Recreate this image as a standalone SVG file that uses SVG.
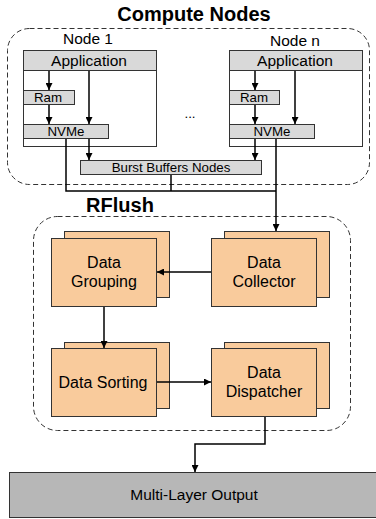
<svg xmlns="http://www.w3.org/2000/svg" width="376" height="519" viewBox="0 0 376 519">
<defs>
<marker id="ah" viewBox="0 0 10 10" refX="10" refY="5" markerWidth="7" markerHeight="7" markerUnits="userSpaceOnUse" orient="auto">
<path d="M0,0 L10,5 L0,10 z" fill="#000"/>
</marker>
<style>
text{font-family:"Liberation Sans",Arial,sans-serif;fill:#000;text-anchor:middle}
.title{font-size:20px;font-weight:bold}
.lbl{font-size:15.5px}
.bx{font-size:16px}
.sm{font-size:13.3px}
.grp{fill:none;stroke:#333;stroke-width:1;stroke-dasharray:5,3}
.box{fill:#fff;stroke:#333;stroke-width:1}
.gray{fill:#d9d9d9;stroke:#333;stroke-width:1}
.org{fill:#f9cb9c;stroke:#333;stroke-width:1}
.out{fill:#b7b7b7;stroke:#333;stroke-width:1}
.c{fill:none;stroke:#000;stroke-width:1.5}
</style>
</defs>
<text class="title" x="194" y="21">Compute Nodes</text>
<rect class="grp" x="7.5" y="28.5" width="362" height="156" rx="22"/>
<g id="node1">
<text class="lbl" x="88" y="44">Node 1</text>
<rect class="box" x="23.5" y="50.5" width="133" height="96"/>
<rect class="gray" x="23.5" y="50.5" width="133" height="20"/>
<text class="lbl" x="89" y="66">Application</text>
<rect class="gray" x="23.5" y="90.5" width="51" height="14"/>
<text class="sm" x="48" y="102">Ram</text>
<rect class="gray" x="23.5" y="124.5" width="85" height="14"/>
<text class="sm" x="66" y="136">NVMe</text>
</g>
<g id="noden">
<text class="lbl" x="295" y="46">Node n</text>
<rect class="box" x="229.5" y="50.5" width="133" height="96"/>
<rect class="gray" x="229.5" y="50.5" width="133" height="20"/>
<text class="lbl" x="295" y="66">Application</text>
<rect class="gray" x="229.5" y="90.5" width="50" height="14"/>
<text class="sm" x="254" y="102">Ram</text>
<rect class="gray" x="229.5" y="124.5" width="85" height="14"/>
<text class="sm" x="272" y="136">NVMe</text>
</g>
<text id="dots" class="sm" x="190" y="118">...</text>
<g id="burst">
<rect class="gray" x="80.5" y="160.5" width="181" height="14"/>
<text class="sm" x="171" y="172">Burst Buffers Nodes</text>
</g>
<text class="title" x="120" y="212">RFlush</text>
<rect class="grp" x="33.5" y="216.5" width="317" height="214" rx="24"/>
<g id="grouping">
<rect class="org" x="64.5" y="231.5" width="105" height="66"/>
<rect class="org" x="51.5" y="238.5" width="105" height="68"/>
<text class="bx" x="104" y="268">Data</text>
<text class="bx" x="104" y="287">Grouping</text>
</g>
<g id="collector">
<rect class="org" x="224.5" y="231.5" width="105" height="66"/>
<rect class="org" x="211.5" y="238.5" width="105" height="68"/>
<text class="bx" x="264" y="268">Data</text>
<text class="bx" x="264" y="287">Collector</text>
</g>
<g id="sorting">
<rect class="org" x="64.5" y="342.5" width="105" height="66"/>
<rect class="org" x="51.5" y="348.5" width="105" height="68"/>
<text class="bx" x="103" y="388">Data Sorting</text>
</g>
<g id="dispatcher">
<rect class="org" x="224.5" y="342.5" width="105" height="66"/>
<rect class="org" x="211.5" y="348.5" width="105" height="68"/>
<text class="bx" x="264" y="378">Data</text>
<text class="bx" x="264" y="397">Dispatcher</text>
</g>
<g id="output">
<rect class="out" x="9.5" y="472.5" width="370" height="45"/>
<text class="lbl" x="194" y="500">Multi-Layer Output</text>
</g>
<g id="connectors">
<path class="c" d="M49,71 V90" marker-end="url(#ah)"/>
<path class="c" d="M49,105 V124" marker-end="url(#ah)"/>
<path class="c" d="M89,71 V124" marker-end="url(#ah)"/>
<path class="c" d="M89,139 V160" marker-end="url(#ah)"/>
<path class="c" d="M255,71 V90" marker-end="url(#ah)"/>
<path class="c" d="M255,105 V124" marker-end="url(#ah)"/>
<path class="c" d="M295,71 V124" marker-end="url(#ah)"/>
<path class="c" d="M255,139 V160" marker-end="url(#ah)"/>
<path class="c" d="M66,139 V191 H276"/>
<path class="c" d="M171,175 V191"/>
<path class="c" d="M276,139 V231" marker-end="url(#ah)"/>
<path class="c" d="M211,272 H157" marker-end="url(#ah)"/>
<path class="c" d="M104,307 V348" marker-end="url(#ah)"/>
<path class="c" d="M157,382 H211" marker-end="url(#ah)"/>
<path class="c" d="M265,417 V444 H195 V472" marker-end="url(#ah)"/>
</g>
</svg>
